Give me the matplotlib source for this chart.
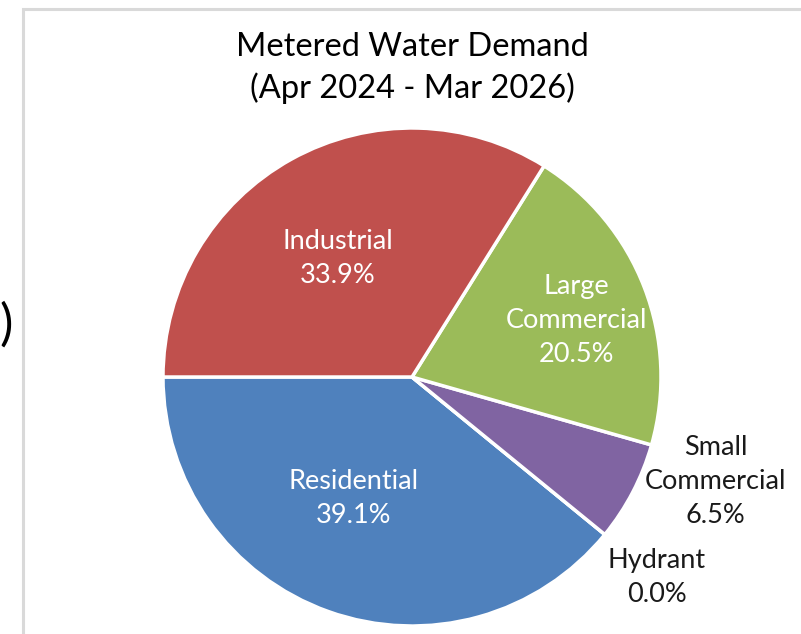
import numpy as np
import matplotlib
matplotlib.use("Agg")
import matplotlib.pyplot as plt
from matplotlib.patches import Rectangle

# data, in counter-clockwise order starting at 9 o'clock
categories = ["Residential", "Hydrant", "Small\nCommercial", "Large\nCommercial", "Industrial"]
shares = [39.1, 0.0, 6.5, 20.5, 33.9]
colors = ["#4F81BD", "#4BACC6", "#8064A2", "#9BBB59", "#C0504D"]

# label placement (radius, angle nudge in degrees, text colour)
label_style = [
    (0.54, -6, "white"),
    (1.27, 0, "#1a1a1a"),
    (1.29, 8.5, "#1a1a1a"),
    (0.70, -2, "white"),
    (0.56, 3, "white"),
]

plt.rcParams['font.family'] = ['Lato', 'DejaVu Sans']

W, H = 801, 634
fig = plt.figure(figsize=(W / 100, H / 100), dpi=100)

# frame of the chart area (partly cut off in the screenshot)
fig.patches.append(Rectangle((23 / W, -0.1), 1.2, 1 - 9 / H + 0.1, transform=fig.transFigure,
                             fill=False, edgecolor="#d9d9d9", linewidth=2.2))
# piece of the neighbouring chart
fig.text(6 / W, 1 - 325 / H, ")", fontsize=36, ha="center", va="center", color="black")

cx, cy, R = 412, 377, 249
ax = fig.add_axes([(cx - R) / W, (H - cy - R) / H, 2 * R / W, 2 * R / H])
wedges, _ = ax.pie(shares, colors=colors, startangle=180, counterclock=True, radius=1,
                   wedgeprops=dict(edgecolor="white", linewidth=2.5))
ax.set_xlim(-1, 1)
ax.set_ylim(-1, 1)
ax.set_aspect("equal")
ax.axis("off")

for w, cat, val, (r, nudge, col) in zip(wedges, categories, shares, label_style):
    ang = np.deg2rad((w.theta1 + w.theta2) / 2 + nudge)
    ax.text(r * np.cos(ang), r * np.sin(ang), f"{cat}\n{val:.1f}%", ha="center", va="center",
            fontsize=19.5, color=col, linespacing=1.45, clip_on=False)

fig.text(cx / W, 1 - 68 / H, "Metered Water Demand\n(Apr 2024 - Mar 2026)", ha="center", va="center",
         fontsize=23.5, color="black", linespacing=1.42)

fig.savefig("out.png", dpi=100)
